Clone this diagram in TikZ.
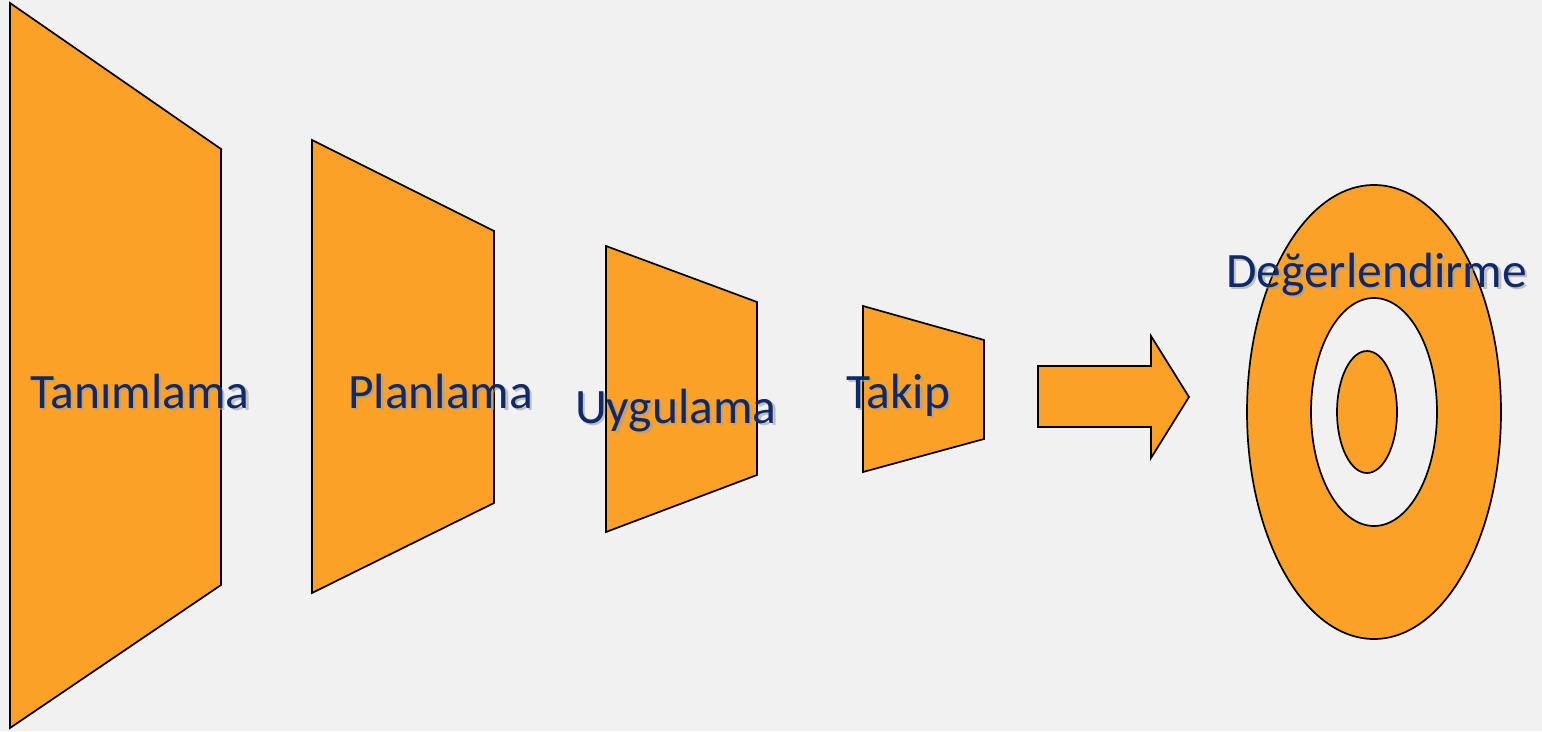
\documentclass[tikz,border=0pt]{standalone}
\usepackage{fontspec}
\setmainfont{Carlito}
\definecolor{bg}{HTML}{F1F1F1}
\definecolor{org}{HTML}{FCA127}
\definecolor{navy}{HTML}{0F2A6A}
\definecolor{shd}{HTML}{A0A0A0}
\begin{document}
\begin{tikzpicture}[x=1pt,y=-1pt,
  orgshape/.style={fill=org,draw=black,line width=1.7pt,line join=miter},
  hole/.style={fill=bg,draw=black,line width=1.7pt},
  lbl/.style={anchor=base west,inner sep=0pt,text=navy,font=\fontsize{49.5}{54}\selectfont},
  lblshadow/.style={anchor=base west,inner sep=0pt,text=shd,opacity=0.6,font=\fontsize{49.5}{54}\selectfont}]
\fill[bg] (0,0) rectangle (1542,731);
\useasboundingbox (0,0) rectangle (1542,731);
% trapezoids
\draw[orgshape] (10,3) -- (221,149) -- (221,585) -- (10,728) -- cycle;
\draw[orgshape] (312,140) -- (494,231) -- (494,503) -- (312,593) -- cycle;
\draw[orgshape] (606,246) -- (757,302) -- (757,475) -- (606,532) -- cycle;
\draw[orgshape] (863,306) -- (984,340) -- (984,439) -- (863,472) -- cycle;
% arrow
\draw[orgshape] (1038,366) -- (1151,366) -- (1151,336) -- (1189,397) -- (1151,458) -- (1151,427) -- (1038,427) -- cycle;
% target
\draw[orgshape] (1374,412) ellipse [x radius=127, y radius=227];
\draw[hole] (1374,412) ellipse [x radius=63, y radius=114];
\draw[orgshape] (1367,412) ellipse [x radius=30, y radius=61];
% labels
\foreach \nm/\x/\y/\t in {a/30/408/Tanımlama, b/348/408/Planlama, c/575/423/Uygulama, d/846/408/Takip, e/1226/287/Değerlendirme}{
  \node[lblshadow] at (\x+2.5,\y+2.5) {\t};
  \node[lbl] (\nm) at (\x,\y) {\t};
}
\end{tikzpicture}
\end{document}
